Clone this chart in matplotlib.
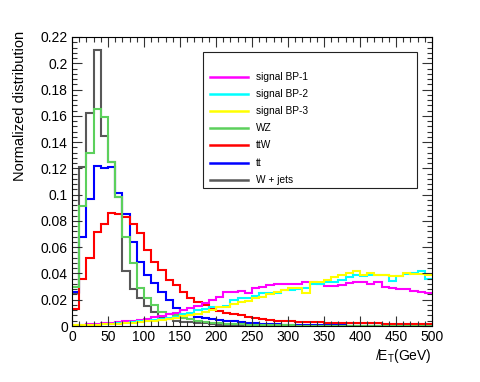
import numpy as np
import matplotlib
matplotlib.use("Agg")
import matplotlib.pyplot as plt
from matplotlib.ticker import MultipleLocator, FixedLocator
from matplotlib.lines import Line2D
from matplotlib.patches import Rectangle

plt.rcParams['font.family'] = ['Liberation Sans', 'DejaVu Sans']
plt.rcParams['mathtext.fontset'] = 'custom'
plt.rcParams['mathtext.rm'] = 'Liberation Sans'
plt.rcParams['mathtext.it'] = 'Liberation Sans'
plt.rcParams['mathtext.sf'] = 'Liberation Sans'

# bin edges: 0..500 GeV, 10 GeV bins
bin_edges = np.arange(0, 501, 10)

bp1 = [0.0005, 0.001, 0.0012, 0.0015, 0.002, 0.0025, 0.003, 0.0035, 0.004, 0.0045,
       0.0055, 0.0065, 0.0075, 0.009, 0.010, 0.012, 0.0135, 0.015, 0.0173, 0.020,
       0.022, 0.026, 0.026, 0.027, 0.025, 0.029, 0.030, 0.0315, 0.032, 0.032,
       0.0318, 0.032, 0.0333, 0.0333, 0.032, 0.0305, 0.0305, 0.031, 0.0326, 0.0333,
       0.0333, 0.0318, 0.0333, 0.0295, 0.029, 0.0285, 0.028, 0.027, 0.0257, 0.025]

bp2 = [0.0003, 0.0005, 0.0008, 0.001, 0.0012, 0.0015, 0.002, 0.0025, 0.003, 0.0035,
       0.004, 0.0045, 0.005, 0.006, 0.007, 0.0095, 0.0097, 0.012, 0.013, 0.0145,
       0.0147, 0.015, 0.0198, 0.021, 0.021, 0.023, 0.025, 0.0255, 0.0254, 0.0275,
       0.0275, 0.028, 0.029, 0.032, 0.032, 0.0333, 0.0333, 0.035, 0.0376, 0.039,
       0.038, 0.039, 0.039, 0.0385, 0.0346, 0.038, 0.0395, 0.040, 0.042, 0.036]

bp3 = [0.0008, 0.0008, 0.001, 0.001, 0.0012, 0.0015, 0.0018, 0.002, 0.0025, 0.003,
       0.0035, 0.004, 0.0045, 0.005, 0.006, 0.0075, 0.008, 0.0095, 0.011, 0.0125,
       0.0145, 0.0145, 0.017, 0.0185, 0.019, 0.021, 0.022, 0.024, 0.0262, 0.0275,
       0.029, 0.029, 0.0254, 0.0338, 0.0338, 0.035, 0.0376, 0.039, 0.0407, 0.0415,
       0.039, 0.040, 0.039, 0.039, 0.038, 0.038, 0.0407, 0.0395, 0.0395, 0.039]

wz = [0.030, 0.091, 0.132, 0.165, 0.159, 0.125, 0.098, 0.068, 0.048, 0.029,
      0.021, 0.016, 0.011, 0.009, 0.008, 0.006, 0.005, 0.004, 0.003, 0.0025,
      0.002, 0.0018, 0.0015, 0.0012, 0.001, 0.0008, 0.0007, 0.0006, 0.0005, 0.0004,
      0.0004, 0.0003, 0.0003, 0.0003, 0.0002, 0.0002, 0.0002, 0.0002, 0.0001, 0.0001,
      0.0001, 0.0001, 0.0001, 0.0001, 0.0001, 0.0001, 0.0001, 0.0001, 0.0001, 0.0001]

ttw = [0.013, 0.036, 0.052, 0.0715, 0.078, 0.086, 0.085, 0.083, 0.078, 0.0707,
       0.058, 0.049, 0.0427, 0.035, 0.031, 0.026, 0.021, 0.018, 0.016, 0.0135,
       0.0115, 0.010, 0.009, 0.008, 0.007, 0.006, 0.005, 0.0045, 0.004, 0.0035,
       0.0035, 0.003, 0.003, 0.003, 0.0028, 0.0026, 0.0025, 0.0024, 0.0023, 0.0022,
       0.0021, 0.002, 0.002, 0.0019, 0.0018, 0.0018, 0.0017, 0.0016, 0.0016, 0.0015]

tt = [0.026, 0.068, 0.097, 0.122, 0.120, 0.121, 0.101, 0.085, 0.064, 0.049,
      0.039, 0.0325, 0.026, 0.020, 0.014, 0.0085, 0.008, 0.0065, 0.006, 0.005,
      0.0045, 0.004, 0.0035, 0.003, 0.0025, 0.002, 0.0018, 0.0015, 0.0012, 0.001,
      0.001, 0.0008, 0.0007, 0.0006, 0.0005, 0.0005, 0.0004, 0.0004, 0.0003, 0.0003,
      0.0003, 0.0002, 0.0002, 0.0002, 0.0002, 0.0001, 0.0001, 0.0001, 0.0001, 0.0001]

wjets = [0.025, 0.121, 0.162, 0.210, 0.145, 0.125, 0.098, 0.042, 0.028, 0.021,
         0.015, 0.011, 0.007, 0.005, 0.004, 0.003, 0.003, 0.002, 0.002, 0.0015,
         0.001, 0.001, 0.001, 0.0008, 0.0008, 0.0006, 0.0005, 0.0005, 0.0004, 0.0004,
         0.0003, 0.0003, 0.0003, 0.0002, 0.0002, 0.0002, 0.0002, 0.0001, 0.0001, 0.0001,
         0.0001, 0.0001, 0.0001, 0.0001, 0.0001, 0.0001, 0.0001, 0.0001, 0.0001, 0.0001]

labels = ["signal BP-1", "signal BP-2", "signal BP-3", "WZ", "ttW", "tt", "W + jets"]
series = [bp1, bp2, bp3, wz, ttw, tt, wjets]
colors = ["#ff00ff", "#00ffff", "#ffff00", "#5cd05c", "#ff0000", "#0000ff", "#585858"]
draw_order = [6, 5, 4, 3, 0, 1, 2]

y_ticks = [0, 0.02, 0.04, 0.06, 0.08, 0.1, 0.12, 0.14, 0.16, 0.18, 0.2, 0.22]
y_ticklabels = ["0", "0.02", "0.04", "0.06", "0.08", "0.1", "0.12", "0.14", "0.16", "0.18", "0.2", "0.22"]
x_ticks = [0, 50, 100, 150, 200, 250, 300, 350, 400, 450, 500]

W, H = 480, 382
fig = plt.figure(figsize=(4.8, 3.82), dpi=100)
ax = fig.add_axes([72 / W, 1 - 326 / H, 360 / W, 289 / H])

for i in draw_order:
    ax.stairs(series[i], bin_edges, color=colors[i], lw=1.5, baseline=None)

ax.set_xlim(0, 500)
ax.set_ylim(0, 0.22)
ax.xaxis.set_major_locator(FixedLocator(x_ticks))
ax.xaxis.set_minor_locator(MultipleLocator(10))
ax.yaxis.set_major_locator(FixedLocator(y_ticks))
ax.set_yticklabels(y_ticklabels)
ax.yaxis.set_minor_locator(MultipleLocator(0.004))
ax.tick_params(which='both', direction='in', top=True, right=True, labelsize=10, width=0.8, color='#333333')
ax.tick_params(which='major', length=7)
ax.tick_params(which='minor', length=3.5)
ax.tick_params(axis='x', pad=3)
ax.tick_params(axis='y', pad=3)
for s in ax.spines.values():
    s.set_linewidth(0.8)

# axis titles (ROOT style: aligned to axis ends)
fig.text(20 / W, 1 - 31 / H, "Normalized distribution", rotation=90, ha='center', va='top', fontsize=10.5)
fig.text(432 / W, 1 - 356 / H, r"$\not{E}_{T}$(GeV)", ha='right', va='center', fontsize=10)

# legend box drawn manually in figure pixel coordinates
fig.patches.append(Rectangle((203 / W, 1 - 188 / H), 214 / W, 136 / H, transform=fig.transFigure,
                             facecolor='white', edgecolor='#222222', lw=0.8, zorder=5))
row_y = [77.3, 94.3, 111.3, 128.3, 145.3, 162.5, 179.8]
for lab, c, yy in zip(labels, colors, row_y):
    fig.add_artist(Line2D([210 / W, 248 / W], [1 - yy / H, 1 - yy / H], transform=fig.transFigure,
                          color=c, lw=1.8, zorder=6))
    fig.text(256 / W, 1 - yy / H, lab, ha='left', va='center', fontsize=7.3, zorder=6)

fig.savefig("out.png", dpi=100)
